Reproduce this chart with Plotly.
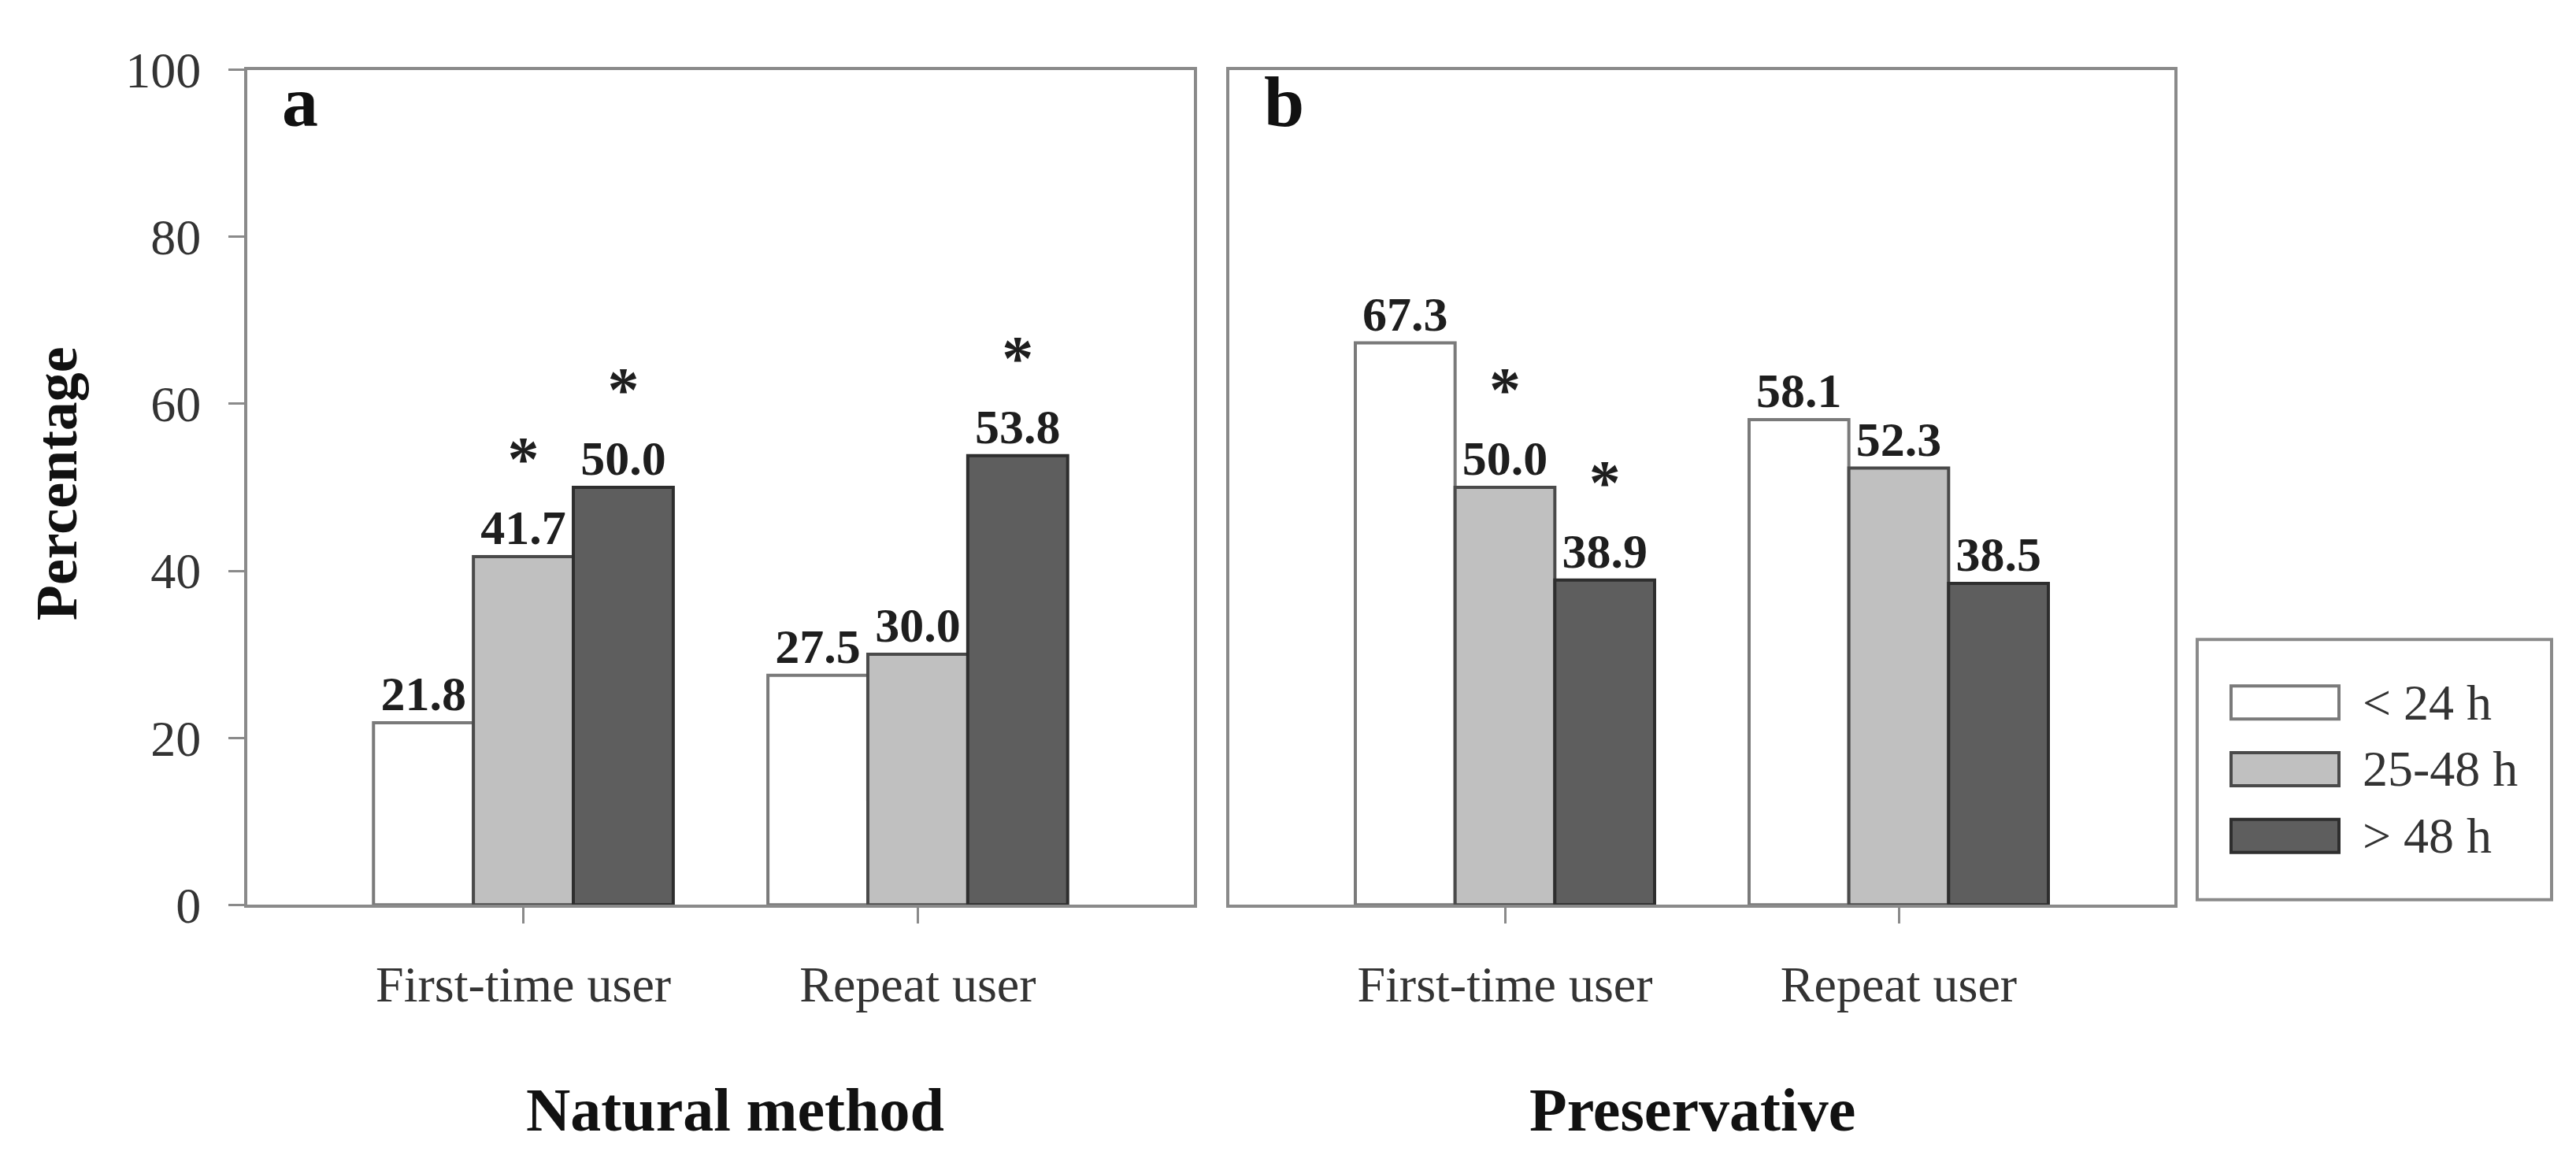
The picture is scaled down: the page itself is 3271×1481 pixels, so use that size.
import plotly.graph_objects as go

# ---------------- data ----------------
categories = ["First-time user", "Repeat user"]
series_names = ["< 24 h", "25-48 h", "> 48 h"]

natural_lt24 = [21.8, 27.5]
natural_25_48 = [41.7, 30.0]
natural_gt48 = [50.0, 53.8]

preserv_lt24 = [67.3, 58.1]
preserv_25_48 = [50.0, 52.3]
preserv_gt48 = [38.9, 38.5]

# significance markers (*) per series, per category
natural_sig = [[False, False], [True, False], [True, True]]
preserv_sig = [[False, False], [True, False], [True, False]]

panel_titles = ["Natural method", "Preservative"]
panel_letters = ["a", "b"]
y_tick_vals = [0, 20, 40, 60, 80, 100]
y_title = "Percentage"

# ---------------- style ----------------
W, H = 3271, 1481
FONT = "Liberation Serif"
fill_colors = ["#ffffff", "#c0c0c0", "#5e5e5e"]
edge_colors = ["#7a7a7a", "#4a4a4a", "#2e2e2e"]
frame_color = "#8a8a8a"
text_dark = "#1e1e1e"
tick_text = "#333333"


def px_x(p):
    return p / W


def px_y(p):
    return 1 - p / H


fig = go.Figure()

panels = [
    ([natural_lt24, natural_25_48, natural_gt48], natural_sig, "x", "y"),
    ([preserv_lt24, preserv_25_48, preserv_gt48], preserv_sig, "x2", "y2"),
]

for values, sig, xa, ya in panels:
    for i, name in enumerate(series_names):
        texts = [
            ("<span style='font-size:80px'>*</span><br>" if s else "") + f"{v:.1f}"
            for v, s in zip(values[i], sig[i])
        ]
        fig.add_trace(
            go.Bar(
                x=categories,
                y=values[i],
                name=name,
                xaxis=xa,
                yaxis=ya,
                marker=dict(color=fill_colors[i], line=dict(color=edge_colors[i], width=4)),
                text=texts,
                textposition="outside",
                textangle=0,
                constraintext="none",
                cliponaxis=False,
                textfont=dict(family=FONT, size=62, color=text_dark, weight="bold"),
                showlegend=False,
                hoverinfo="x+y+name",
            )
        )

x_dom_a = [px_x(306), px_x(1508)]
x_dom_b = [px_x(1553), px_x(2753)]
y_dom = [px_y(1162), px_y(48)]

xaxis_common = dict(
    type="category",
    range=[-0.7, 1.7],
    showline=True,
    linecolor=frame_color,
    linewidth=4,
    mirror=True,
    ticks="outside",
    ticklen=20,
    tickwidth=3,
    tickcolor=frame_color,
    tickfont=dict(family=FONT, size=64, color=tick_text),
    ticklabelstandoff=22,
    showgrid=False,
    zeroline=False,
    fixedrange=True,
)
yaxis_common = dict(
    range=[0, 100],
    showline=True,
    linecolor=frame_color,
    linewidth=4,
    mirror=True,
    showgrid=False,
    zeroline=False,
    fixedrange=True,
)

fig.update_layout(
    width=W,
    height=H,
    margin=dict(l=0, r=0, t=0, b=0),
    paper_bgcolor="white",
    plot_bgcolor="white",
    barmode="group",
    bargap=0.24,
    bargroupgap=0,
    font=dict(family=FONT, color=tick_text),
    xaxis=dict(domain=x_dom_a, anchor="y", **xaxis_common),
    xaxis2=dict(domain=x_dom_b, anchor="y2", **xaxis_common),
    yaxis=dict(
        domain=y_dom,
        anchor="x",
        tickvals=y_tick_vals,
        ticks="outside",
        ticklen=20,
        tickwidth=3,
        tickcolor=frame_color,
        tickfont=dict(family=FONT, size=64, color=tick_text),
        ticklabelstandoff=22,
        **yaxis_common,
    ),
    yaxis2=dict(
        domain=y_dom,
        anchor="x2",
        showticklabels=False,
        ticks="",
        **yaxis_common,
    ),
)

annotations = []
title_x = [0.515, 0.49]
# panel letters and panel (x-axis) titles
for k, (letter, title) in enumerate(zip(panel_letters, panel_titles)):
    xref = "x domain" if k == 0 else "x2 domain"
    annotations.append(dict(
        text=letter, xref=xref, yref="paper", x=0.035, y=px_y(90),
        xanchor="left", yanchor="middle", showarrow=False,
        font=dict(family=FONT, size=92, color="#111111", weight="bold"),
    ))
    annotations.append(dict(
        text=title, xref=xref, yref="paper", x=title_x[k], y=px_y(1435),
        xanchor="center", yanchor="middle", showarrow=False,
        font=dict(family=FONT, size=78, color="#111111", weight="bold"),
    ))

# y-axis title
annotations.append(dict(
    text=y_title, xref="paper", yref="paper", x=px_x(64), y=px_y(600),
    xanchor="center", yanchor="middle", textangle=-90, showarrow=False,
    font=dict(family=FONT, size=74, color="#111111", weight="bold"),
))

# legend (box, swatches, labels)
shapes = [dict(
    type="rect", xref="paper", yref="paper",
    x0=px_x(2782), x1=px_x(3232), y0=px_y(1155), y1=px_y(808),
    line=dict(color=frame_color, width=4), fillcolor="rgba(0,0,0,0)",
)]
for i, name in enumerate(series_names):
    cy = 892 + 89 * i
    shapes.append(dict(
        type="rect", xref="paper", yref="paper",
        x0=px_x(2825), x1=px_x(2962), y0=px_y(cy + 22), y1=px_y(cy - 22),
        line=dict(color=edge_colors[i], width=4), fillcolor=fill_colors[i],
    ))
    annotations.append(dict(
        text=name, xref="paper", yref="paper", x=px_x(2990), y=px_y(cy),
        xanchor="left", yanchor="middle", showarrow=False,
        font=dict(family=FONT, size=64, color=tick_text),
    ))

fig.update_layout(annotations=annotations, shapes=shapes)

fig.write_html("out.html")
